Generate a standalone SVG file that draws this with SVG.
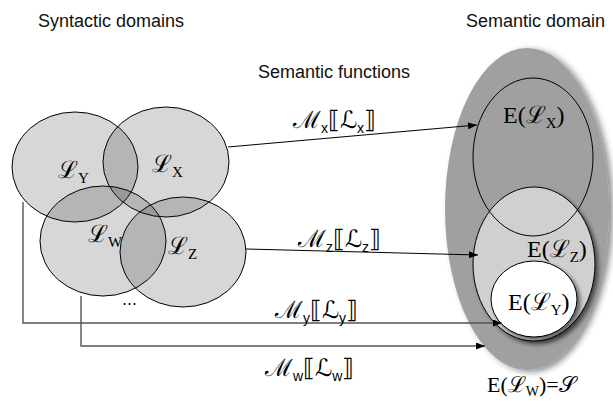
<svg xmlns="http://www.w3.org/2000/svg" width="613" height="407" viewBox="0 0 613 407">
<defs>
<style>
.t{font-family:"Liberation Sans",Arial,sans-serif;font-size:18px;fill:#111}
.m{font-family:"Liberation Serif","DejaVu Serif",serif;fill:#000}
.big{font-size:24px}
.sub{font-size:15px}
.ss{font-family:"Liberation Sans","DejaVu Sans",sans-serif;font-size:14px}
.syn{fill:#111;fill-opacity:0.17;stroke:#000;stroke-width:1}
.ln{fill:none;stroke:#000;stroke-width:1}
.gl{fill:none;stroke:#555;stroke-width:1.4}
</style>
<marker id="ah" markerUnits="userSpaceOnUse" markerWidth="9" markerHeight="7" refX="9" refY="3.5" orient="auto">
<path d="M0,0 L9,3.5 L0,7 z" fill="#000"/>
</marker>
<filter id="sh" x="-20%" y="-20%" width="140%" height="140%">
<feDropShadow dx="3" dy="3" stdDeviation="2" flood-color="#000" flood-opacity="0.55"/>
</filter>
<filter id="shb" x="-20%" y="-20%" width="140%" height="140%">
<feDropShadow dx="4" dy="2" stdDeviation="3" flood-color="#000" flood-opacity="0.45"/>
</filter>
</defs>
<rect width="613" height="407" fill="#fff"/>

<text class="t" x="38" y="27">Syntactic domains</text>
<text class="t" x="466" y="27">Semantic domain</text>
<text class="t" x="258" y="78">Semantic functions</text>

<g id="semantic-domain">
<ellipse cx="527" cy="209" rx="82" ry="161" fill="#a0a0a0" filter="url(#shb)"/>
</g>

<g id="E-LZ">
<ellipse cx="534" cy="264" rx="61" ry="77" fill="#d0d0d0" stroke="#000" stroke-width="1" filter="url(#sh)"/>
<text class="m big" x="527" y="257">E(ℒ<tspan class="sub" dy="5">Z</tspan><tspan dy="-5">)</tspan></text>
</g>

<g id="E-LX">
<ellipse cx="533" cy="157" rx="60" ry="79" fill="none" stroke="#000" stroke-width="1"/>
<text class="m big" x="503" y="123">E(ℒ<tspan class="sub" dy="5">X</tspan><tspan dy="-5">)</tspan></text>
</g>

<g id="E-LY">
<ellipse cx="534" cy="299" rx="43" ry="38" fill="#fff" stroke="#000" stroke-width="1" filter="url(#sh)"/>
<text class="m big" x="508" y="310">E(ℒ<tspan class="sub" dy="5">Y</tspan><tspan dy="-5">)</tspan></text>
</g>

<g id="E-LW">
<text class="m" font-size="22" x="487" y="392">E(ℒ<tspan font-size="14" dy="4">W</tspan><tspan dy="-4">)=𝒮</tspan></text>
</g>

<g id="LY">
<ellipse class="syn" cx="75" cy="167" rx="63" ry="55"/>
<text class="m big" x="58" y="178">ℒ<tspan class="sub" dy="5">Y</tspan></text>
</g>
<g id="LX">
<ellipse class="syn" cx="166" cy="162" rx="63" ry="55"/>
<text class="m big" x="152" y="172">ℒ<tspan class="sub" dy="5">X</tspan></text>
</g>
<g id="LW">
<ellipse class="syn" cx="103" cy="241" rx="63" ry="55"/>
<text class="m big" x="88" y="242">ℒ<tspan class="sub" dy="5">W</tspan></text>
</g>
<g id="LZ">
<ellipse class="syn" cx="183" cy="252" rx="63" ry="55"/>
<text class="m big" x="168" y="254">ℒ<tspan class="sub" dy="5">Z</tspan></text>
</g>
<g id="more">
<text class="t" font-size="16" x="122" y="305">...</text>
</g>

<g id="connectors">
<line class="ln" x1="228" y1="147" x2="477" y2="125" marker-end="url(#ah)"/>
<line class="ln" x1="246" y1="249" x2="478" y2="255" marker-end="url(#ah)"/>
<polyline class="gl" points="23,202 23,323 502,323" marker-end="url(#ah)"/>
<polyline class="gl" points="81,296 81,346 485,346" marker-end="url(#ah)"/>
</g>

<g id="labels">
<text class="m big" x="293" y="128">ℳ<tspan class="ss" dy="5">x</tspan><tspan dy="-5">⟦ℒ</tspan><tspan class="ss" dy="5">x</tspan><tspan dy="-5">⟧</tspan></text>
<text class="m big" x="298" y="247">ℳ<tspan class="ss" dy="5">z</tspan><tspan dy="-5">⟦ℒ</tspan><tspan class="ss" dy="5">z</tspan><tspan dy="-5">⟧</tspan></text>
<text class="m big" x="275" y="318">ℳ<tspan class="ss" dy="5">y</tspan><tspan dy="-5">⟦ℒ</tspan><tspan class="ss" dy="5">y</tspan><tspan dy="-5">⟧</tspan></text>
<text class="m big" x="265" y="376">ℳ<tspan class="ss" dy="5">w</tspan><tspan dy="-5">⟦ℒ</tspan><tspan class="ss" dy="5">w</tspan><tspan dy="-5">⟧</tspan></text>
</g>
</svg>
